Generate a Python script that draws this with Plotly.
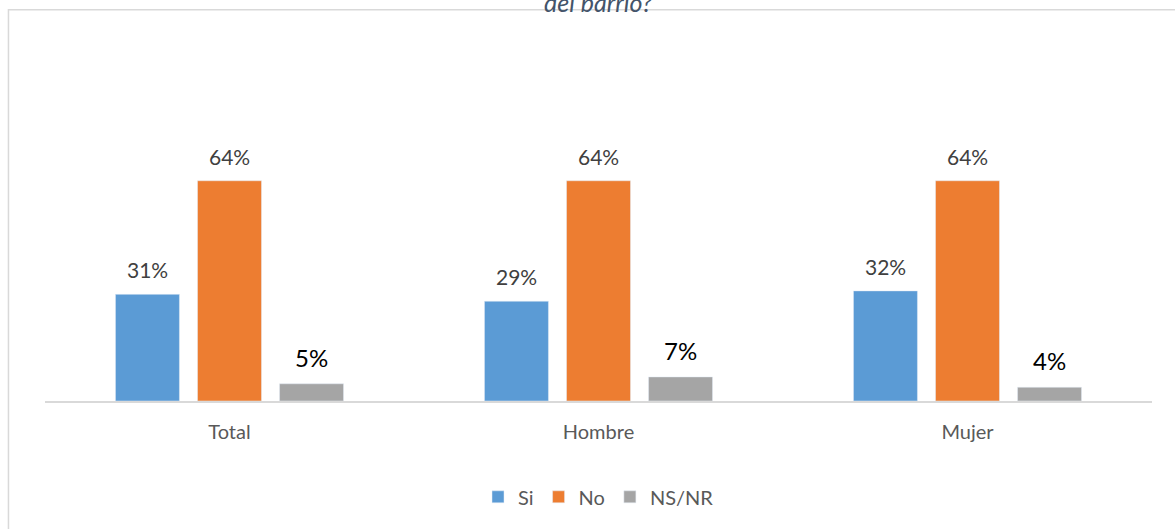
import plotly.graph_objects as go

categories = ["Total", "Hombre", "Mujer"]
series_names = ["Si", "No", "NS/NR"]
si_values = [0.31, 0.29, 0.32]
no_values = [0.64, 0.64, 0.64]
nsnr_values = [0.05, 0.07, 0.04]

colors = ["#5B9BD5", "#ED7D31", "#A5A5A5"]
all_values = [si_values, no_values, nsnr_values]

fig = go.Figure()
for name, vals, col in zip(series_names, all_values, colors):
    fig.add_trace(go.Bar(x=categories, y=vals, name=name, marker_color=col))

# etiquetas de datos encima de cada barra
annotations = []
offsets = [-82, 0, 82]
for i, vals in enumerate(all_values):
    big = i == 2
    for cat, v in zip(categories, vals):
        annotations.append(dict(
            x=cat, y=v, xref="x", yref="y",
            text=f"{round(v * 100)}%", showarrow=False,
            xshift=offsets[i], yshift=10, yanchor="bottom",
            font=dict(size=24 if big else 21, color="#000000" if big else "#404040"),
        ))

# titulo cortado arriba (solo se ve la parte de abajo)
annotations.append(dict(
    x=0.5, y=1, xref="paper", yref="paper", text="<i>del barrio?</i>",
    showarrow=False, yanchor="bottom", yshift=31,
    font=dict(size=25, color="#44546A"),
))

fig.update_layout(
    width=1175, height=529,
    margin=dict(l=45, r=23, t=50, b=128),
    paper_bgcolor="white", plot_bgcolor="white",
    font=dict(family="Lato, Open Sans, sans-serif", color="#595959"),
    barmode="group", bargap=0.333, bargroupgap=0.22,
    showlegend=True,
    legend=dict(orientation="h", x=0.5, xanchor="center", y=-0.273, yanchor="middle",
                font=dict(size=20, color="#595959"), itemwidth=30),
    annotations=annotations,
    shapes=[dict(type="rect", xref="paper", yref="paper",
                 x0=-0.033, x1=1.2, y0=-0.6, y1=1.115,
                 line=dict(color="#D9D9D9", width=1.5), fillcolor="rgba(0,0,0,0)")],
)
fig.update_xaxes(showline=True, linecolor="#D9D9D9", linewidth=1.5,
                 tickfont=dict(size=20, color="#595959"),
                 ticks="outside", ticklen=12, tickcolor="rgba(0,0,0,0)")
fig.update_yaxes(range=[0, 1.02], visible=False, showgrid=False)

fig.write_html("out.html", config={"displayModeBar": False},
               post_script="document.body.style.margin='0px';")
